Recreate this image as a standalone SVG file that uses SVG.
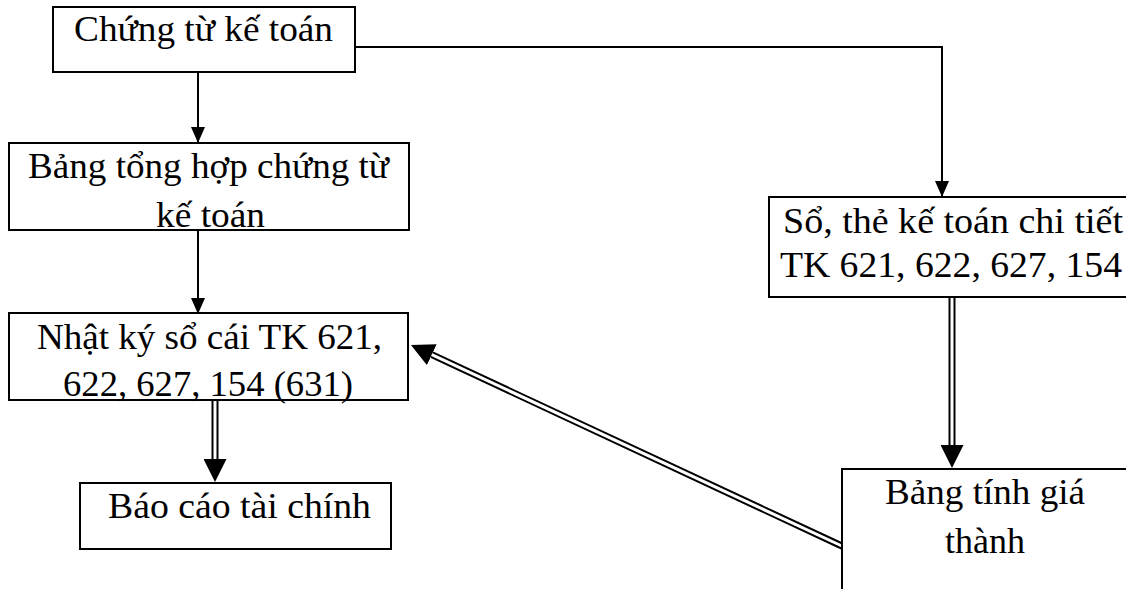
<svg xmlns="http://www.w3.org/2000/svg" width="1126" height="589" viewBox="0 0 1126 589">
  <style>
    .box { fill: #ffffff; stroke: #000000; stroke-width: 2; }
    .lbl { font-family: "Liberation Serif", "Times New Roman", "DejaVu Serif", serif; font-size: 35px; fill: #000000; }
    .single { fill: none; stroke: #000000; stroke-width: 2; marker-end: url(#head-small); }
    .dbl-outer { fill: none; stroke: #000000; stroke-width: 7; marker-end: url(#head-big); }
    .dbl-inner { fill: none; stroke: #ffffff; stroke-width: 3; }
  </style>
  <defs>
    <!-- small solid head, tip sits on the path end -->
    <marker id="head-small" viewBox="0 0 16 14" refX="16" refY="7" markerWidth="16" markerHeight="14" markerUnits="userSpaceOnUse" orient="auto">
      <path d="M0,0 L16,7 L0,14 z" fill="#000000"/>
    </marker>
    <!-- large head for double-line flows, base sits on the path end -->
    <marker id="head-big" viewBox="0 0 23 23" refX="0" refY="11.5" markerWidth="23" markerHeight="23" markerUnits="userSpaceOnUse" orient="auto">
      <path d="M0,0 L23,11.5 L0,23 z" fill="#000000"/>
    </marker>
  </defs>

  <rect width="1126" height="589" fill="#ffffff"/>

  <g id="connectors">
    <path class="single" d="M198,72 L198,143"/>
    <path class="single" d="M198,230 L198,314"/>
    <path class="single" d="M355,47 L942,47 L942,197"/>

    <path class="dbl-outer" d="M952,297 L952,445"/>
    <path class="dbl-inner" d="M952,296 L952,445"/>

    <path class="dbl-outer" d="M215,400 L215,459"/>
    <path class="dbl-inner" d="M215,399 L215,459"/>

    <path class="dbl-outer" d="M844,547 L431.8,354.7"/>
    <path class="dbl-inner" d="M844,547 L431.8,354.7"/>
  </g>

  <g id="chung-tu">
    <rect class="box" x="53" y="7" width="302" height="65"/>
    <text class="lbl" x="74" y="41" textLength="259" lengthAdjust="spacingAndGlyphs">Chứng từ kế toán</text>
  </g>

  <g id="bang-tong-hop">
    <rect class="box" x="9" y="143" width="400" height="87"/>
    <text class="lbl" x="28" y="178" textLength="361" lengthAdjust="spacingAndGlyphs">Bảng tổng hợp chứng từ</text>
    <text class="lbl" x="156" y="227" textLength="109" lengthAdjust="spacingAndGlyphs">kế toán</text>
  </g>

  <g id="nhat-ky-so-cai">
    <rect class="box" x="9" y="313" width="399" height="87"/>
    <text class="lbl" x="37" y="349" textLength="345" lengthAdjust="spacingAndGlyphs">Nhật ký sổ cái TK 621,</text>
    <text class="lbl" x="63" y="396" textLength="290" lengthAdjust="spacingAndGlyphs">622, 627, 154 (631)</text>
  </g>

  <g id="bao-cao">
    <rect class="box" x="80" y="483" width="311" height="66"/>
    <text class="lbl" x="108" y="518" textLength="263" lengthAdjust="spacingAndGlyphs">Báo cáo tài chính</text>
  </g>

  <g id="so-the-chi-tiet">
    <rect class="box" x="769" y="197" width="380" height="100"/>
    <text class="lbl" x="783" y="233" textLength="340" lengthAdjust="spacingAndGlyphs">Sổ, thẻ kế toán chi tiết</text>
    <text class="lbl" x="780" y="277" textLength="342" lengthAdjust="spacingAndGlyphs">TK 621, 622, 627, 154</text>
  </g>

  <g id="bang-tinh-gia">
    <rect class="box" x="842" y="469" width="320" height="150"/>
    <text class="lbl" x="885" y="504" textLength="200" lengthAdjust="spacingAndGlyphs">Bảng tính giá</text>
    <text class="lbl" x="945" y="553" textLength="80" lengthAdjust="spacingAndGlyphs">thành</text>
  </g>
</svg>
